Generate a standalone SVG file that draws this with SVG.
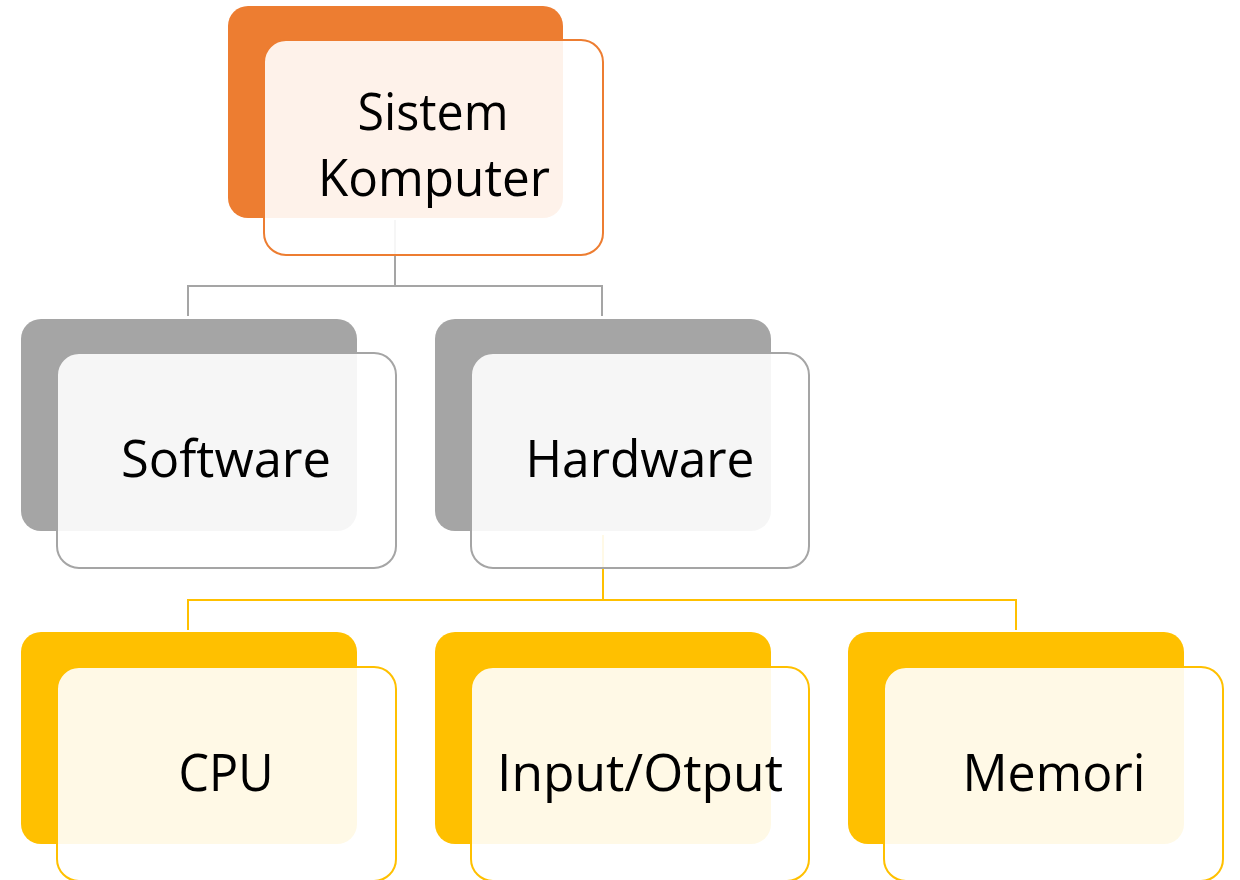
<svg xmlns="http://www.w3.org/2000/svg" width="1240" height="880" viewBox="0 0 1240 880">
<style>
.bk{stroke:none}
.fr{fill:#ffffff;fill-opacity:0.9;stroke-width:2}
.or .bk{fill:#ED7D31}.or .fr{stroke:#ED7D31}
.gy .bk{fill:#A5A5A5}.gy .fr{stroke:#A5A5A5}
.yl .bk{fill:#FFC000}.yl .fr{stroke:#FFC000}
.lbl{font-family:"Open Sans","Noto Sans","Liberation Sans",sans-serif;font-size:52px;fill:#000000;text-anchor:middle}
.cg{fill:none;stroke:#A5A5A5;stroke-width:2}
.cy{fill:none;stroke:#FFC000;stroke-width:2}
</style>
<rect width="1240" height="880" fill="#ffffff"/>
<g id="connectors">
<path class="cg" d="M395,220 V286 M188,316 V286 H602 V316"/>
<path class="cy" d="M603,535 V600 M188,630 V600 H1016 V630"/>
</g>
<g id="node-sistem" class="or">
<rect class="bk" x="228" y="6" width="335" height="212" rx="20"/>
<rect class="fr" x="264" y="40" width="339" height="215" rx="22"/>
<text class="lbl" x="433" y="130" textLength="151" lengthAdjust="spacingAndGlyphs">Sistem</text>
<text class="lbl" x="434" y="196" textLength="232" lengthAdjust="spacingAndGlyphs">Komputer</text>
</g>
<g id="node-software" class="gy">
<rect class="bk" x="21" y="319" width="336" height="212" rx="20"/>
<rect class="fr" x="57" y="353" width="339" height="215" rx="22"/>
<text class="lbl" x="226" y="477" textLength="210" lengthAdjust="spacingAndGlyphs">Software</text>
</g>
<g id="node-hardware" class="gy">
<rect class="bk" x="435" y="319" width="336" height="212" rx="20"/>
<rect class="fr" x="471" y="353" width="338" height="215" rx="22"/>
<text class="lbl" x="640" y="477" textLength="229" lengthAdjust="spacingAndGlyphs">Hardware</text>
</g>
<g id="node-cpu" class="yl">
<rect class="bk" x="21" y="632" width="336" height="212" rx="20"/>
<rect class="fr" x="57" y="667" width="339" height="214" rx="22"/>
<text class="lbl" x="226" y="791" textLength="95" lengthAdjust="spacingAndGlyphs">CPU</text>
</g>
<g id="node-io" class="yl">
<rect class="bk" x="435" y="632" width="336" height="212" rx="20"/>
<rect class="fr" x="471" y="667" width="338" height="214" rx="22"/>
<text class="lbl" x="640" y="791" textLength="286" lengthAdjust="spacingAndGlyphs">Input/Otput</text>
</g>
<g id="node-memori" class="yl">
<rect class="bk" x="848" y="632" width="336" height="212" rx="20"/>
<rect class="fr" x="884" y="667" width="339" height="214" rx="22"/>
<text class="lbl" x="1054" y="791" textLength="183" lengthAdjust="spacingAndGlyphs">Memori</text>
</g>
</svg>
